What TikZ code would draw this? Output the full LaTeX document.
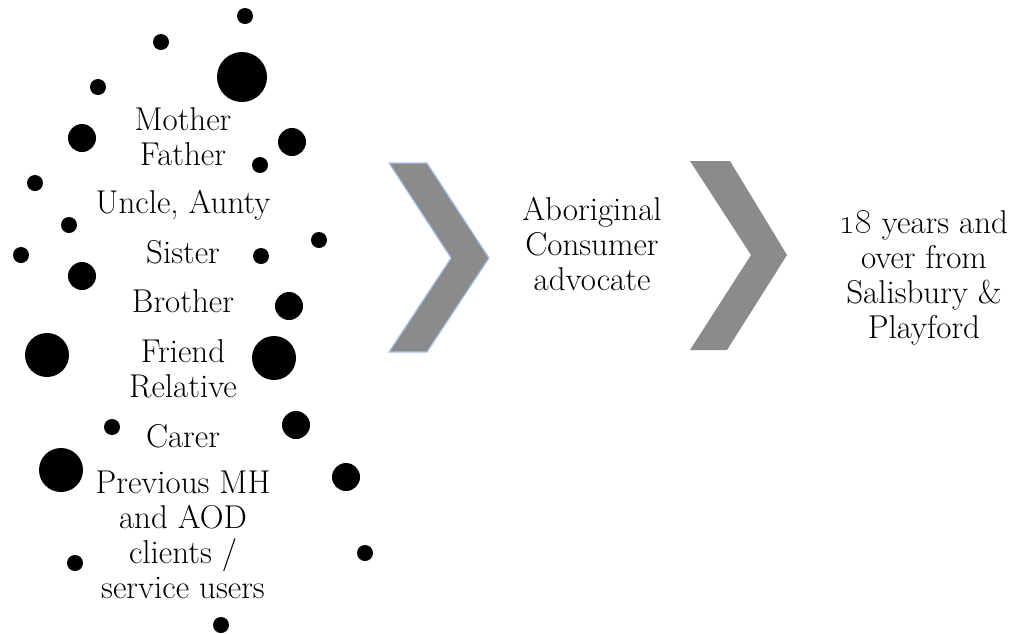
\documentclass[tikz,border=0pt]{standalone}
\begin{document}
\begin{tikzpicture}[x=1pt,y=-1pt,
  label/.style={align=center,anchor=base,inner sep=0pt,
    font=\fontsize{33}{35}\selectfont},
  dot/.style={fill=black},
  chev/.style={fill=chevgray}]
\definecolor{chevgray}{HTML}{8B8B8B}
\definecolor{chevedge}{HTML}{A9C3E8}
\useasboundingbox (0,0) rectangle (1014,633);

% scattered dots around the list
\foreach \x/\y/\r in {245/16/8, 161/42/8, 242/77/25, 98/87/8, 82/138/14,
  292/142/14, 260/165/8, 35/183/8, 69/225/8, 319/240/8, 21/255/8,
  261/256/8, 82/276/14, 289/306/14, 47/355/22, 274/358/22, 112/427/8,
  296/425/14, 61/470/22, 346/477/14, 75/563/8, 365/553/8, 221/625/8}
  \fill[dot] (\x,\y) circle[radius=\r];

% left list (multi-line nodes sit on the baseline of their last line)
\node[label] (mf)   at (183,165) {Mother\\Father};
\node[label] (ua)   at (183,213) {Uncle, Aunty};
\node[label] (sis)  at (183,263) {Sister};
\node[label] (bro)  at (183,312) {Brother};
\node[label] (fr)   at (183,397) {Friend\\Relative};
\node[label] (car)  at (183,447) {Carer};
\node[label] (prev) at (183,598) {Previous MH\\and AOD\\clients /\\service users};

% chevrons
\draw[chev,draw=chevedge,line width=1.2pt,line join=miter]
  (389,163) -- (427,163) -- (489,258) -- (427,352) -- (389,352) -- (451,258) -- cycle;
\fill[chev]
  (690,161) -- (730,161) -- (787,255) -- (727,350) -- (690,350) -- (751,255) -- cycle;

% middle and right labels
\node[label] (aca) at (592,290) {Aboriginal\\Consumer\\advocate};
\node[label] (age) at (924,338) {\oldstylenums{18} years and\\over from\\Salisbury \&\\Playford};
\end{tikzpicture}
\end{document}
